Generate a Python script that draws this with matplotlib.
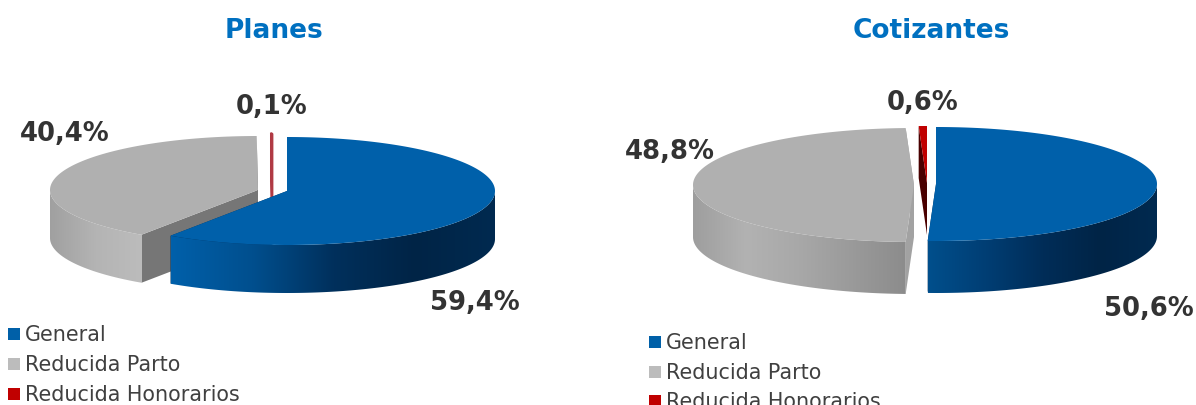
"""Two exploded 3D-look pies: Planes and Cotizantes, by type of subsidy."""

import matplotlib
matplotlib.use("Agg")
import matplotlib.pyplot as plt
import numpy as np
from matplotlib.colors import LinearSegmentedColormap
from matplotlib.patches import Polygon, Rectangle

W, H = 1196, 406

categories = ["General", "Reducida Parto", "Reducida Honorarios"]
planes_values = [59.4, 40.4, 0.1]
cotizantes_values = [50.6, 48.8, 0.6]
planes_labels = ["59,4%", "40,4%", "0,1%"]
cotizantes_labels = ["50,6%", "48,8%", "0,6%"]

top_colors = ["#0060aa", "#b0b0b0", "#c00000"]
swatch_colors = ["#0060a8", "#bcbcbc", "#c00000"]
planes_walls = ["#00305a", "#767676", "#b03a44"]
cotizantes_walls = ["#00305a", "#a2a2a2", "#4a0000"]
TEXT = "#333333"
LEGEND_TEXT = "#404040"
TITLE = "#0070c0"

# rim gradients, left to right across the visible part of each slice
planes_rims = [
    ["#0060aa", "#004f8e", "#00305c", "#002446", "#002a50"],
    ["#a0a0a0", "#b4b4b4", "#bcbcbc"],
    ["#800000", "#800000"],
]
cotizantes_rims = [
    ["#004f8c", "#003e74", "#002d58", "#002446", "#002a50"],
    ["#9e9e9e", "#b2b2b2", "#a8a8a8", "#9a9a9a", "#8c8c8c"],
    ["#800000", "#800000"],
]


def sector_xy(cx, cy, rx, ry, a0, a1, n=200):
    # angles are clockwise from 12 o'clock, in degrees
    t = np.radians(np.linspace(a0, a1, n))
    return cx + rx * np.sin(t), cy - ry * np.cos(t)


def draw_slice(ax, cx, cy, rx, ry, depth, a0, a1, top, wall, rim, zorder):
    # a very thin slice still has to show as a line
    thin = a1 - a0 < 1
    lw = 1.0 if thin else 0
    # flat walls on the two cut sides
    for a in (a0, a1):
        ex, ey = sector_xy(cx, cy, rx, ry, a, a, 1)
        pts = [(cx, cy), (ex[0], ey[0]), (ex[0], ey[0] + depth), (cx, cy + depth)]
        ax.add_patch(Polygon(pts, closed=True, fc=wall, ec=wall if thin else "none", lw=lw, zorder=zorder))

    # outer rim, only the part that faces the viewer
    lo, hi = max(a0, 90), min(a1, 270)
    if hi > lo:
        x, y = sector_xy(cx, cy, rx, ry, lo, hi)
        pts = np.vstack([np.c_[x, y], np.c_[x, y + depth][::-1]])
        clip = Polygon(pts, closed=True, fc="none", ec="none", zorder=zorder)
        ax.add_patch(clip)
        cmap = LinearSegmentedColormap.from_list("rim", rim)
        grad = np.linspace(0, 1, 256).reshape(1, -1)
        im = ax.imshow(grad, cmap=cmap, aspect="auto", zorder=zorder,
                       extent=(x.min(), x.max(), y.max() + depth, y.min()))
        im.set_clip_path(clip)

    # top face
    x, y = sector_xy(cx, cy, rx, ry, a0, a1)
    pts = np.vstack([[cx, cy], np.c_[x, y]])
    ax.add_patch(Polygon(pts, closed=True, fc=top, ec=wall if thin else "none", lw=lw, zorder=zorder))


def draw_pie(ax, values, labels, walls, rims, centers, rx, ry, depth, label_xy):
    total = sum(values)
    edges = np.concatenate([[0], np.cumsum(values) / total * 360])
    # back slices first so General ends up in front
    for i in (1, 2, 0):
        cx, cy = centers[i]
        draw_slice(ax, cx, cy, rx, ry, depth, edges[i], edges[i + 1],
                   top_colors[i], walls[i], rims[i], zorder=2 + (i == 0))
    for (lx, ly), lab in zip(label_xy, labels):
        ax.text(lx, ly, lab, fontsize=18.6, fontweight="bold", color=TEXT,
                ha="center", va="center", zorder=5)


def draw_legend(ax, x, ys):
    for y, name, col in zip(ys, categories, swatch_colors):
        ax.add_patch(Rectangle((x, y - 6), 12, 12, fc=col, ec="none", zorder=4))
        ax.text(x + 17, y, name, fontsize=14.9, color=LEGEND_TEXT, va="center", ha="left", zorder=5)


def main():
    fig = plt.figure(figsize=(W / 100, H / 100), dpi=100)
    ax = fig.add_axes([0, 0, 1, 1])

    draw_pie(ax, planes_values, planes_labels, planes_walls, planes_rims,
             centers=[(287, 192), (258, 191), (272, 188)], rx=208, ry=54, depth=48,
             label_xy=[(475, 303), (65, 134), (272, 107)])
    draw_pie(ax, cotizantes_values, cotizantes_labels, cotizantes_walls, cotizantes_rims,
             centers=[(936, 185), (914, 186), (927, 184)], rx=221, ry=57, depth=52,
             label_xy=[(1149, 309), (670, 152), (923, 103)])

    ax.text(274, 31, "Planes", fontsize=19, fontweight="bold", color=TITLE, ha="center", va="center")
    ax.text(931, 31, "Cotizantes", fontsize=19, fontweight="bold", color=TITLE, ha="center", va="center")

    draw_legend(ax, 8, [335, 365, 395])
    draw_legend(ax, 649, [343, 373, 402])

    ax.set_xlim(0, W)
    ax.set_ylim(H, 0)
    ax.axis("off")
    fig.savefig("out.png", dpi=100, facecolor="white")
    plt.close(fig)


if __name__ == "__main__":
    main()
